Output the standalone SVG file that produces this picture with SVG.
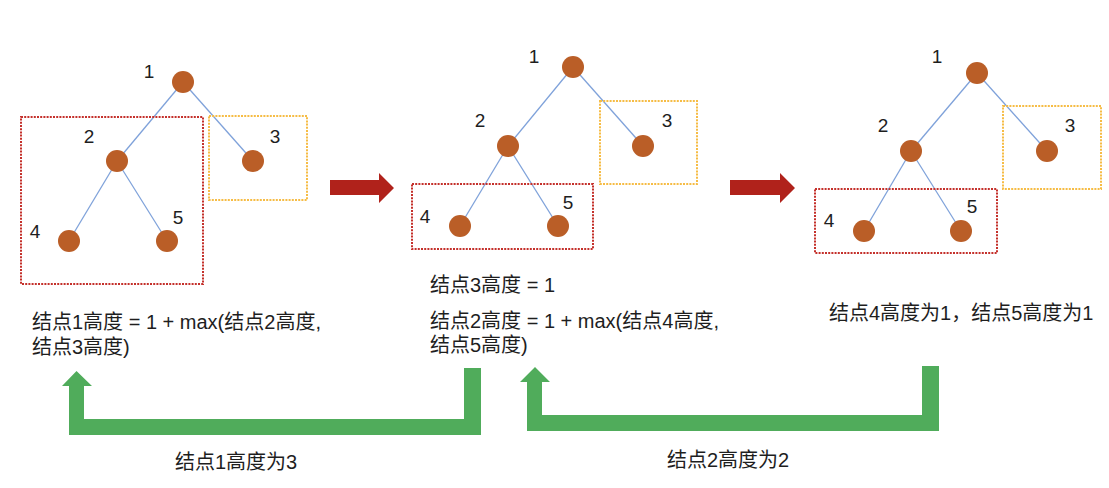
<svg xmlns="http://www.w3.org/2000/svg" width="1109" height="488" viewBox="0 0 1109 488">
<style>
.edge{stroke:#7FA2DA;stroke-width:1.3;fill:none}
.node{fill:#BA5E27}
.lbl{font-family:"Liberation Sans","Noto Sans CJK SC",sans-serif;font-size:19px;fill:#1E1E1E;text-anchor:middle}
.txt{font-family:"Liberation Sans","Noto Sans CJK SC",sans-serif;font-size:20px;fill:#1E1E1E}
.redbox{fill:none;stroke:#C4302B;stroke-width:2;stroke-dasharray:2 1.2}
.ylwbox{fill:none;stroke:#F6BC45;stroke-width:2;stroke-dasharray:2 1.2}
.red{fill:#B0221B}
.green{fill:#50AC5B}
</style>
<rect width="1109" height="488" fill="#FFFFFF"/>
<g id="connectors">
<line class="edge" x1="183" y1="82" x2="117" y2="161"/>
<line class="edge" x1="183" y1="82" x2="253" y2="161"/>
<line class="edge" x1="117" y1="161" x2="69" y2="241"/>
<line class="edge" x1="117" y1="161" x2="167" y2="241"/>
<line class="edge" x1="573" y1="67" x2="508" y2="146"/>
<line class="edge" x1="573" y1="67" x2="643" y2="146"/>
<line class="edge" x1="508" y1="146" x2="460" y2="226"/>
<line class="edge" x1="508" y1="146" x2="558" y2="226"/>
<line class="edge" x1="977" y1="73" x2="911" y2="151"/>
<line class="edge" x1="977" y1="73" x2="1047" y2="151"/>
<line class="edge" x1="911" y1="151" x2="864" y2="231"/>
<line class="edge" x1="911" y1="151" x2="961" y2="231"/>
</g>
<g id="boxes">
<rect class="redbox" x="21" y="117" width="182" height="167"/>
<rect class="ylwbox" x="209" y="116" width="98" height="84"/>
<rect class="redbox" x="412" y="184" width="181" height="65"/>
<rect class="ylwbox" x="600" y="101" width="97" height="83"/>
<rect class="redbox" x="815" y="189" width="182" height="64"/>
<rect class="ylwbox" x="1003" y="106" width="98" height="83"/>
</g>
<g id="tree1">
<g id="t1n1"><circle class="node" cx="183" cy="82" r="11"/><text class="lbl" x="149" y="78">1</text></g>
<g id="t1n2"><circle class="node" cx="117" cy="161" r="11"/><text class="lbl" x="89" y="143">2</text></g>
<g id="t1n3"><circle class="node" cx="253" cy="161" r="11"/><text class="lbl" x="275" y="143">3</text></g>
<g id="t1n4"><circle class="node" cx="69" cy="241" r="11"/><text class="lbl" x="35" y="238">4</text></g>
<g id="t1n5"><circle class="node" cx="167" cy="241" r="11"/><text class="lbl" x="178" y="224">5</text></g>
</g>
<g id="tree2">
<g id="t2n1"><circle class="node" cx="573" cy="67" r="11"/><text class="lbl" x="534" y="63">1</text></g>
<g id="t2n2"><circle class="node" cx="508" cy="146" r="11"/><text class="lbl" x="480" y="127">2</text></g>
<g id="t2n3"><circle class="node" cx="643" cy="146" r="11"/><text class="lbl" x="667" y="127">3</text></g>
<g id="t2n4"><circle class="node" cx="460" cy="226" r="11"/><text class="lbl" x="425" y="223">4</text></g>
<g id="t2n5"><circle class="node" cx="558" cy="226" r="11"/><text class="lbl" x="568" y="209">5</text></g>
</g>
<g id="tree3">
<g id="t3n1"><circle class="node" cx="977" cy="73" r="11"/><text class="lbl" x="937" y="63">1</text></g>
<g id="t3n2"><circle class="node" cx="911" cy="151" r="11"/><text class="lbl" x="883" y="132">2</text></g>
<g id="t3n3"><circle class="node" cx="1047" cy="151" r="11"/><text class="lbl" x="1070" y="132">3</text></g>
<g id="t3n4"><circle class="node" cx="864" cy="231" r="11"/><text class="lbl" x="829" y="227">4</text></g>
<g id="t3n5"><circle class="node" cx="961" cy="231" r="11"/><text class="lbl" x="972" y="213">5</text></g>
</g>
<g id="arrows">
<path class="red" d="M330,180 L379,180 L379,173 L394,188 L379,203 L379,195 L330,195 Z"/>
<path class="red" d="M730,180 L780,180 L780,173 L795,188 L780,203 L780,195 L730,195 Z"/>
<path class="green" d="M464,368 L481,368 L481,435 L69,435 L69,386 L62,386 L76.5,371 L92,386 L84,386 L84,419 L464,419 Z"/>
<path class="green" d="M922,366 L939,366 L939,431 L527,431 L527,382 L520,382 L535,367 L550,382 L542,382 L542,415 L922,415 Z"/>
</g>
<g id="texts">
<text class="txt" x="32" y="329">结点1高度 = 1 + max(结点2高度,</text>
<text class="txt" x="32" y="354">结点3高度)</text>
<text class="txt" x="430" y="292">结点3高度 = 1</text>
<text class="txt" x="430" y="328">结点2高度 = 1 + max(结点4高度,</text>
<text class="txt" x="430" y="352">结点5高度)</text>
<text class="txt" x="829" y="320">结点4高度为1，结点5高度为1</text>
<text class="txt" x="175" y="469">结点1高度为3</text>
<text class="txt" x="667" y="467">结点2高度为2</text>
</g>
</svg>
